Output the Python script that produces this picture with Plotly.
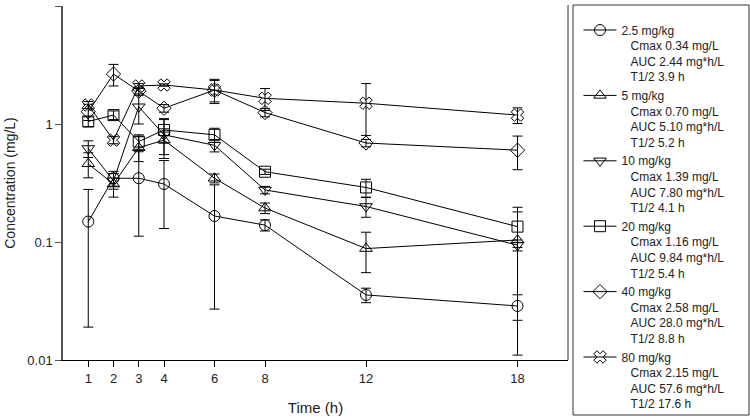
import plotly.graph_objects as go

times = [1, 2, 3, 4, 6, 8, 12, 18]
doses = ["2.5 mg/kg", "5 mg/kg", "10 mg/kg", "20 mg/kg", "40 mg/kg", "80 mg/kg"]
cmax_txt = ["0.34", "0.70", "1.39", "1.16", "2.58", "2.15"]
auc_txt = ["2.44", "5.10", "7.80", "9.84", "28.0", "57.6"]
thalf_txt = ["3.9", "5.2", "4.1", "5.4", "8.8", "17.6"]

conc_2_5 = [0.149, 0.347, 0.347, 0.31, 0.166, 0.139, 0.0356, 0.0287]
sd_2_5 = [0.13, 0.05, 0.235, 0.18, 0.139, 0.015, 0.005, 0.007]
conc_5 = [0.46, 0.31, 0.63, 0.73, 0.347, 0.194, 0.088, 0.104]
sd_5 = [0.11, 0.07, 0.15, 0.18, 0.03, 0.02, 0.033, 0.093]
conc_10 = [0.62, 0.33, 1.40, 0.81, 0.66, 0.276, 0.20, 0.094]
sd_10 = [0.1, 0.05, 0.4, 0.3, 0.08, 0.02, 0.038, 0.01]
conc_20 = [1.05, 1.19, 0.71, 0.89, 0.81, 0.394, 0.29, 0.135]
sd_20 = [0.1, 0.1, 0.1, 0.2, 0.11, 0.02, 0.05, 0.045]
conc_40 = [1.27, 2.65, 1.9, 1.36, 1.94, 1.25, 0.69, 0.60]
sd_40 = [0.2, 0.55, 0.15, 0.1, 0.45, 0.1, 0.05, 0.19]
conc_80 = [1.45, 0.73, 2.1, 2.14, 1.94, 1.65, 1.5, 1.19]
sd_80 = [0.1, 0.05, 0.1, 0.05, 0.4, 0.35, 0.7, 0.18]

series = [conc_2_5, conc_5, conc_10, conc_20, conc_40, conc_80]
sds = [sd_2_5, sd_5, sd_10, sd_20, sd_40, sd_80]
symbols = ["circle-open", "triangle-up-open", "triangle-down-open",
           "square-open", "diamond-open", "x-open"]

fig = go.Figure()
ind = "&nbsp;&nbsp;&#8201;"
for i in range(6):
    name = (f"{doses[i]}<br>{ind}Cmax {cmax_txt[i]} mg/L<br>{ind}AUC {auc_txt[i]} mg*h/L"
            f"<br>{ind}T1/2 {thalf_txt[i]} h")
    fig.add_trace(go.Scatter(
        x=times, y=series[i], name=name, mode="lines+markers",
        line=dict(color="black", width=1),
        marker=dict(symbol=symbols[i], size=11, color="black",
                    line=dict(color="black", width=1)),
        error_y=dict(type="data", array=sds[i], visible=True,
                     color="black", thickness=1, width=5),
    ))

fig.update_layout(
    width=750, height=419,
    margin=dict(l=63, r=182, t=6, b=59),
    paper_bgcolor="white", plot_bgcolor="white",
    font=dict(family="Liberation Sans, Arial, sans-serif", size=13, color="#222"),
    showlegend=True,
    legend=dict(x=1.0208, xanchor="left", y=0.9726, yanchor="top",
                borderwidth=0, bgcolor="rgba(0,0,0,0)", valign="top",
                font=dict(size=12, color="#222"), tracegroupgap=0,
                itemwidth=33, maxheight=419),
    xaxis=dict(range=[0, 20], tickvals=times, ticktext=[str(t) for t in times],
               ticks="outside", ticklen=6, tickcolor="black", showgrid=False,
               zeroline=False, showline=True, linecolor="black", linewidth=1,
               title=dict(text="Time (h)", font=dict(size=15), standoff=17),
               tickfont=dict(size=13)),
    yaxis=dict(type="log", range=[-2, 1], tickvals=[0.01, 0.1, 1, 10],
               ticktext=["0.01", "0.1", "1", "10"],
               ticks="outside", ticklen=6, tickcolor="#555", showgrid=False,
               zeroline=False, showline=True, linecolor="#555", linewidth=1.5,
               title=dict(text="Concentration (mg/L)", font=dict(size=14), standoff=8),
               tickfont=dict(size=13)),
)
# right frame line of plot area
fig.add_shape(type="line", xref="paper", yref="paper", x0=1, x1=1, y0=0, y1=1.003,
              line=dict(color="#333", width=1))
# legend box
fig.add_shape(type="rect", xref="paper", yref="paper",
              x0=(573 - 63) / 505, x1=(749 - 63) / 505,
              y0=(360 - 415) / 354, y1=(360 - 5) / 354,
              line=dict(color="#333", width=1), fillcolor="rgba(0,0,0,0)")

fig.write_html("out.html", config={"displayModeBar": False},
               post_script="document.body.style.margin='0';document.body.style.overflow='hidden';")
